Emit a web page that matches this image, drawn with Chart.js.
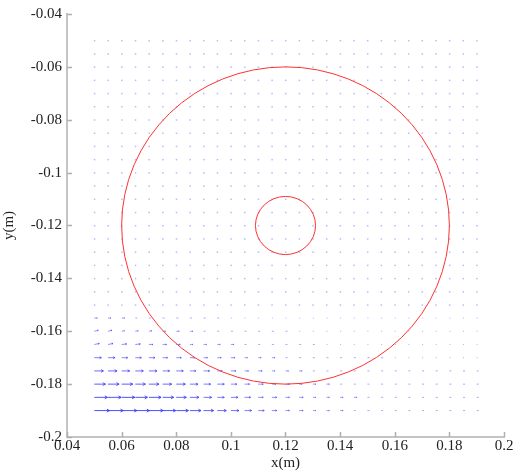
<!DOCTYPE html>
<html>
<head>
<meta charset="utf-8">
<script src="https://cdn.jsdelivr.net/npm/chart.js@4"></script>
<style>
  html, body { margin: 0; padding: 0; background: #fff; }
  #wrap { width: 514px; height: 474px; }
</style>
</head>
<body>
<div id="wrap"><canvas id="quiver" width="514" height="474"></canvas></div>
<script>
// grid positions of the vectors (m)
const xs = [0.05, 0.055, 0.06, 0.065, 0.07, 0.075, 0.08, 0.085, 0.09, 0.095,
            0.1, 0.105, 0.11, 0.115, 0.12, 0.125, 0.13, 0.135, 0.14, 0.145,
            0.15, 0.155, 0.16, 0.165, 0.17, 0.175, 0.18, 0.185, 0.19];
const ys = [-0.19, -0.185, -0.18, -0.175, -0.17, -0.165, -0.16, -0.155, -0.15, -0.145,
            -0.14, -0.135, -0.13, -0.125, -0.12, -0.115, -0.11, -0.105, -0.1, -0.095,
            -0.09, -0.085, -0.08, -0.075, -0.07, -0.065, -0.06, -0.055, -0.05];

// horizontal velocity (arbitrary units) for the bottom rows, y = -0.19 upward
const u190 = [15,15,15,14,14,13,12,11,10,9,8,7,6,5,4,4,3,3,3,2,2,2,2,2,2,2,2,2,2];
const u185 = [13,13,13,12,12,11,10,9,8,7,7,6,5,5,4,4,3,3,3,3,2,2,2,2,2,2,2,2,2];
const u180 = [11,11,11,10,10,9,9,8,7,7,6,5,5,4,4,3,3,3,2,2,2,2,2,2,2,2,2,2,2];
const u175 = [9,9,8,8,8,7,7,6,6,5,5,4,4,3,3,3,2,2,2,2,2,2,2,2,2,2,2,2,2];
const u170 = [7,7,6,6,6,5,5,5,4,4,4,3,3,3,2,2,2,2,2,2,2,2,1,1,1,1,1,1,1];
const u165 = [5,5,5,5,4,4,4,3,3,3,3,2,2,2,2,2,2,1,1,1,1,1,1,1,1,1,1,1,1];
const u160 = [4,4,3,3,3,3,3,3,2,2,2,2,2,2,2,1,1,1,1,1,1,1,1,1,1,1,1,1,1];
const u155 = [3,3,3,2,2,2,2,2,2,2,1,1,1,1,1,1,1,1,1,1,1,1,1,1,1,1,1,1,1];
// small upward component near the left edge
const v165 = [1,1,0.5,0.5,0,0,0,0,0,0,0,0,0,0,0,0,0,0,0,0,0,0,0,0,0,0,0,0,0];
const v160 = [1,1,0.5,0.5,0.5,0,0,0,0,0,0,0,0,0,0,0,0,0,0,0,0,0,0,0,0,0,0,0,0];

const uRows = [u190, u185, u180, u175, u170, u165, u160, u155];
const vRows = [null, null, null, null, null, v165, v160, null];

// circles: centre x, centre y, radius (m)
const circleX = [0.12, 0.12];
const circleY = [-0.12, -0.12];
const circleR = [0.06, 0.011];

const xTicks = [0.04, 0.06, 0.08, 0.1, 0.12, 0.14, 0.16, 0.18, 0.2];
const yTicks = [-0.2, -0.18, -0.16, -0.14, -0.12, -0.1, -0.08, -0.06, -0.04];

const arrowScale = 0.00037; // m per unit

const points = [];
ys.forEach((y, j) => {
  xs.forEach((x, i) => {
    const ur = uRows[j], vr = vRows[j];
    points.push({ x: x, y: y, u: ur ? ur[i] : 0, v: vr ? vr[i] : 0 });
  });
});

const quiverPlugin = {
  id: 'quiver',
  afterDatasetsDraw(chart) {
    const ctx = chart.ctx;
    const sx = chart.scales.x, sy = chart.scales.y;
    ctx.save();
    // vectors
    chart.data.datasets[0].data.forEach(p => {
      const x0 = sx.getPixelForValue(p.x), y0 = sy.getPixelForValue(p.y);
      if (!p.u && !p.v) {
        ctx.fillStyle = 'rgba(100,100,255,0.45)';
        ctx.fillRect(x0 - 0.5, y0 - 0.5, 1.5, 1.5);
        return;
      }
      const x1 = sx.getPixelForValue(p.x + p.u * arrowScale);
      const y1 = sy.getPixelForValue(p.y + p.v * arrowScale);
      const len = Math.hypot(x1 - x0, y1 - y0);
      const a = Math.min(0.85, 0.35 + len / 25);
      ctx.strokeStyle = 'rgba(50,50,255,' + a + ')';
      ctx.lineWidth = 1;
      ctx.beginPath();
      ctx.moveTo(x0, y0);
      ctx.lineTo(x1, y1);
      if (len > 3) {
        const ang = Math.atan2(y1 - y0, x1 - x0);
        const h = Math.min(3, len * 0.3);
        ctx.moveTo(x1 - h * Math.cos(ang - 0.5), y1 - h * Math.sin(ang - 0.5));
        ctx.lineTo(x1, y1);
        ctx.lineTo(x1 - h * Math.cos(ang + 0.5), y1 - h * Math.sin(ang + 0.5));
      }
      ctx.stroke();
    });
    // circles
    ctx.strokeStyle = '#ff3030';
    ctx.lineWidth = 1;
    circleR.forEach((r, k) => {
      const cx = sx.getPixelForValue(circleX[k]), cy = sy.getPixelForValue(circleY[k]);
      const rx = Math.abs(sx.getPixelForValue(circleX[k] + r) - cx);
      const ry = Math.abs(sy.getPixelForValue(circleY[k] + r) - cy);
      ctx.beginPath();
      ctx.ellipse(cx, cy, rx, ry, 0, 0, Math.PI * 2);
      ctx.stroke();
    });
    // inward ticks
    const area = chart.chartArea;
    ctx.strokeStyle = '#b0b0b0';
    ctx.lineWidth = 1.5;
    ctx.beginPath();
    xTicks.forEach(t => {
      const px = Math.round(sx.getPixelForValue(t)) + 0.5;
      ctx.moveTo(px, area.bottom);
      ctx.lineTo(px, area.bottom - 5);
    });
    yTicks.forEach(t => {
      const py = Math.round(sy.getPixelForValue(t)) + 0.5;
      ctx.moveTo(area.left, py);
      ctx.lineTo(area.left + 5, py);
    });
    ctx.stroke();
    ctx.restore();
  }
};

const serif = { family: '"Liberation Serif", "DejaVu Serif", serif', size: 15 };
const fmt = v => String(+v.toFixed(3));

new Chart(document.getElementById('quiver').getContext('2d'), {
  type: 'scatter',
  data: { datasets: [{ data: points, pointRadius: 0, showLine: false }] },
  options: {
    responsive: false,
    animation: false,
    events: [],
    layout: { padding: { top: 13, right: 10, left: 0, bottom: 0 } },
    plugins: { legend: { display: false }, tooltip: { enabled: false } },
    scales: {
      x: {
        type: 'linear', min: 0.04, max: 0.2,
        afterBuildTicks: s => { s.ticks = xTicks.map(v => ({ value: v })); },
        afterFit: s => { s.height = 37; },
        grid: { drawOnChartArea: false, drawTicks: false },
        border: { color: '#c4c4c4', width: 2 },
        ticks: { font: serif, color: '#222', padding: 0, maxRotation: 0, autoSkip: false, callback: fmt },
        title: { display: true, text: 'x(m)', font: serif, color: '#222', padding: { top: -2, bottom: 2 } }
      },
      y: {
        type: 'linear', min: -0.2, max: -0.04,
        afterBuildTicks: s => { s.ticks = yTicks.map(v => ({ value: v })); },
        afterFit: s => { s.width = 67; },
        grid: { drawOnChartArea: false, drawTicks: false },
        border: { color: '#c4c4c4', width: 2 },
        ticks: { font: serif, color: '#222', padding: 5, autoSkip: false, callback: fmt },
        title: { display: true, text: 'y(m)', font: serif, color: '#222', padding: { top: 0, bottom: 0 } }
      }
    }
  },
  plugins: [quiverPlugin]
});
</script>
</body>
</html>
